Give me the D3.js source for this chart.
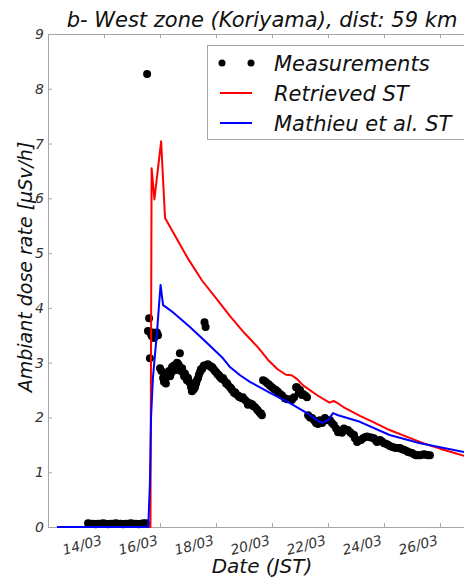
<!DOCTYPE html>
<html>
<head>
<meta charset="utf-8">
<script src="https://d3js.org/d3.v7.min.js"></script>
<style>
body { margin: 0; background: white; }
text { font-family: "DejaVu Sans", sans-serif; font-style: italic; }
</style>
</head>
<body>
<svg></svg>
<script>
// days of March 2011 (JST), values in uSv/h
var tickDays = [14, 16, 18, 20, 22, 24, 26];
var tickLabels = ["14/03", "16/03", "18/03", "20/03", "22/03", "24/03", "26/03"];
var yTicks = [0, 1, 2, 3, 4, 5, 6, 7, 8, 9];

var measDays = [13.43, 13.52, 13.61, 13.70, 13.79, 13.88, 13.97, 14.06, 14.15, 14.24, 14.33, 14.42,
    14.51, 14.60, 14.69, 14.78, 14.87, 14.96, 15.05, 15.14, 15.23, 15.32, 15.41, 15.50,
    15.54, 15.57, 15.61, 15.64, 15.68, 15.71, 15.75, 15.79, 15.82, 15.86, 15.89, 15.93,
    16.00, 16.05, 16.11, 16.14, 16.18, 16.21, 16.25, 16.29, 16.32, 16.36, 16.39, 16.43,
    16.46, 16.50, 16.54, 16.57, 16.61, 16.64, 16.68, 16.71, 16.75, 16.79, 16.82, 16.86,
    16.89, 16.93, 16.96, 17.00, 17.04, 17.07, 17.11, 17.14, 17.18, 17.21, 17.25, 17.29,
    17.32, 17.36, 17.39, 17.43, 17.46, 17.50, 17.54, 17.57, 17.59, 17.63, 17.68, 17.71,
    17.75, 17.79, 17.82, 17.86, 17.89, 17.93, 17.96, 18.00, 18.04, 18.07, 18.11, 18.14,
    18.18, 18.21, 18.25, 18.29, 18.36, 18.39, 18.43, 18.50, 18.54, 18.57, 18.64, 18.68,
    18.71, 18.79, 18.82, 18.86, 18.93, 18.96, 19.04, 19.11, 19.14, 19.21, 19.29, 19.32,
    19.39, 19.46, 19.50, 19.57, 19.61, 19.64,
    19.68, 19.75, 19.82, 19.89, 19.93, 20.00, 20.07, 20.14, 20.21, 20.29, 20.36, 20.46,
    20.54, 20.64, 20.71, 20.79, 20.86, 20.89, 20.96, 21.00, 21.07, 21.11, 21.18, 21.25,
    21.29, 21.36, 21.43, 21.50, 21.57, 21.64, 21.71, 21.79, 21.89, 21.96, 22.07, 22.14,
    22.21, 22.29, 22.36, 22.43, 22.50, 22.57, 22.64, 22.71, 22.79, 22.86, 22.93, 22.96,
    23.04, 23.11, 23.18, 23.25, 23.32, 23.39, 23.50, 23.57, 23.64, 23.71, 23.75, 23.82,
    23.86, 23.93, 24.00, 24.07, 24.14, 24.21, 24.29, 24.36, 24.43, 24.50, 24.57, 24.64,
    24.71, 24.79, 24.86, 24.93, 25.00, 25.07, 25.14, 25.21, 25.29, 25.36, 25.43, 25.50,
    25.57, 25.64];
var measDose = [0.07, 0.06, 0.06, 0.05, 0.06, 0.06, 0.07, 0.06, 0.05, 0.06, 0.06, 0.07,
    0.06, 0.06, 0.05, 0.06, 0.06, 0.07, 0.06, 0.06, 0.05, 0.06, 0.07, 0.07,
    8.27, 3.58, 3.81, 3.08, 3.52, 3.48, 3.55, 3.45, 3.50, 3.52, 3.55, 3.50,
    2.90, 2.85, 2.72, 2.65, 2.68, 2.62, 2.75, 2.80, 2.85, 2.75, 2.80, 2.92,
    2.90, 2.95, 2.86, 2.92, 3.00, 2.98, 2.95, 3.17, 2.85, 2.90, 2.82, 2.75,
    2.80, 2.75, 2.68, 2.72, 2.65, 2.63, 2.55, 2.48, 2.50, 2.52, 2.55, 2.62,
    2.68, 2.72, 2.78, 2.83, 2.88, 2.88, 2.92, 2.95, 3.74, 3.65, 2.96, 2.97,
    2.95, 2.94, 2.92, 2.92, 2.90, 2.87, 2.85, 2.83, 2.80, 2.78, 2.77, 2.74,
    2.72, 2.70, 2.72, 2.68, 2.62, 2.63, 2.59, 2.55, 2.53, 2.50, 2.45, 2.46,
    2.43, 2.40, 2.38, 2.37, 2.35, 2.37, 2.32, 2.28, 2.23, 2.26, 2.24, 2.21,
    2.19, 2.15, 2.12, 2.08, 2.07, 2.04,
    2.68, 2.66, 2.63, 2.60, 2.58, 2.55, 2.52, 2.50, 2.47, 2.43, 2.40, 2.35,
    2.33, 2.33, 2.32, 2.37, 2.55, 2.55, 2.46, 2.50, 2.41, 2.43, 2.40, 2.37,
    2.04, 2.00, 1.99, 1.95, 1.90, 1.88, 1.95, 1.90, 1.99, 1.95, 1.95, 1.90,
    1.86, 1.80, 1.73, 1.75, 1.72, 1.80, 1.77, 1.77, 1.73, 1.70, 1.68, 1.62,
    1.55, 1.58, 1.59, 1.62, 1.64, 1.65, 1.64, 1.63, 1.62, 1.58, 1.55, 1.58,
    1.59, 1.56, 1.53, 1.52, 1.50, 1.48, 1.46, 1.45, 1.44, 1.44, 1.44, 1.42,
    1.41, 1.39, 1.37, 1.36, 1.35, 1.33, 1.31, 1.31, 1.31, 1.32, 1.33, 1.32,
    1.31, 1.31];

var retrievedDays = [12.32, 15.66, 15.70, 15.80, 16.04, 16.18, 16.79, 17.0, 17.5, 18.0, 18.5, 19.0,
    19.5, 19.86, 20.2, 20.5, 20.7, 20.9, 21.1, 21.6, 22.05, 22.2, 22.35, 22.55, 23.14, 23.6,
    24.2, 24.8, 25.4, 26.0, 26.86, 27.25];
var retrievedDose = [0, 0, 6.55, 5.98, 7.04, 5.64, 5.09, 4.90, 4.50, 4.18, 3.85, 3.55,
    3.28, 3.05, 2.88, 2.78, 2.77, 2.70, 2.59, 2.41, 2.27, 2.30, 2.26, 2.19, 2.03, 1.92,
    1.77, 1.65, 1.53, 1.43, 1.30, 1.25];

var mathieuDays = [12.32, 15.58, 15.64, 15.68, 15.75, 15.89, 16.02, 16.11, 16.25, 16.46, 17.07, 17.68,
    18.25, 18.5, 18.86, 19.21, 19.93, 20.64, 21.25, 21.6, 21.79, 22.0, 22.18, 22.36, 23.14,
    24.2, 25.29, 26.86, 27.25];
var mathieuDose = [0, 0, 0.8, 2.0, 2.74, 3.54, 4.42, 4.05, 4.0, 3.92, 3.65, 3.36,
    3.08, 2.92, 2.77, 2.65, 2.45, 2.26, 2.08, 1.95, 1.90, 1.95, 2.08, 2.04, 1.92,
    1.68, 1.53, 1.37, 1.33];

var legendNames = ["Measurements", "Retrieved ST", "Mathieu et al. ST"];
var lineColors = ["#ff0000", "#0000ff"];

var screen = {width: 464, height: 579};
var plot = {left: 48, right: 475, top: 34, bottom: 527};

var svg = d3.select("svg")
    .attr("width", screen.width)
    .attr("height", screen.height);

var xScale = d3.scaleLinear().domain([12, 27.25]).range([plot.left, plot.right]);
var yScale = d3.scaleLinear().domain([0, 9]).range([plot.bottom, plot.top]);

// frame
svg.append("rect")
    .attr("x", plot.left + 0.5).attr("y", plot.top + 0.5)
    .attr("width", plot.right - plot.left).attr("height", plot.bottom - plot.top)
    .attr("fill", "none").attr("stroke", "#a6a6a6");

var styleAxis = function(g)
{
    g.select(".domain").remove();
    g.selectAll(".tick line").attr("stroke", "#a6a6a6");
    g.selectAll(".tick text").attr("fill", "#333").style("font-size", "14px").style("font-family", "DejaVu Sans");
}

var xAxis = svg.append("g")
    .attr("transform", "translate(0," + plot.bottom + ")")
    .call(d3.axisBottom(xScale).tickValues(tickDays)
        .tickFormat(function(d, i){ return tickLabels[i]; })
        .tickSize(-4).tickSizeOuter(0))
    .call(styleAxis);
xAxis.selectAll(".tick text")
    .attr("text-anchor", "end")
    .attr("x", -6).attr("y", 6).attr("dy", "0.75em")
    .attr("transform", "rotate(-15)");

svg.append("g")
    .attr("transform", "translate(0," + plot.top + ")")
    .call(d3.axisTop(xScale).tickValues(tickDays).tickFormat("").tickSize(-4).tickSizeOuter(0))
    .call(styleAxis);

svg.append("g")
    .attr("transform", "translate(" + plot.left + ",0)")
    .call(d3.axisLeft(yScale).tickValues(yTicks).tickSize(-4).tickSizeOuter(0).tickPadding(4))
    .call(styleAxis);

// measurements
svg.append("g")
    .selectAll("circle")
    .data(measDays)
    .enter()
    .append("circle")
    .attr("cx", function(d){ return xScale(d); })
    .attr("cy", function(d, i){ return yScale(measDose[i]); })
    .attr("r", 4)
    .attr("fill", "black");

var line = d3.line()
    .x(function(d){ return xScale(d[0]); })
    .y(function(d){ return yScale(d[1]); });

var series = [d3.zip(retrievedDays, retrievedDose), d3.zip(mathieuDays, mathieuDose)];
svg.append("g")
    .selectAll("path")
    .data(series)
    .enter()
    .append("path")
    .attr("d", line)
    .attr("fill", "none")
    .attr("stroke", function(d, i){ return lineColors[i]; })
    .attr("stroke-width", 2)
    .attr("stroke-linejoin", "round");

// texts
svg.append("text")
    .attr("x", 262).attr("y", 27)
    .attr("text-anchor", "middle")
    .style("font-size", "21px").attr("fill", "#111")
    .text("b- West zone (Koriyama), dist: 59 km");

svg.append("text")
    .attr("x", 262).attr("y", 573)
    .attr("text-anchor", "middle")
    .style("font-size", "20px").attr("fill", "#111")
    .text("Date (JST)");

svg.append("text")
    .attr("transform", "translate(32,267) rotate(-90)")
    .attr("text-anchor", "middle")
    .style("font-size", "19px").attr("fill", "#111")
    .text("Ambiant dose rate [\u00b5Sv/h]");

// legend
var legend = svg.append("g");
legend.append("rect")
    .attr("x", 207.5).attr("y", 45.5)
    .attr("width", 270).attr("height", 94)
    .attr("fill", "white").attr("stroke", "#a6a6a6");

var rows = legend.selectAll("g")
    .data(legendNames)
    .enter()
    .append("g")
    .attr("transform", function(d, i){ return "translate(0," + (63 + i * 30) + ")"; });

rows.append("text")
    .attr("x", 274).attr("dy", "0.36em")
    .style("font-size", "21px").attr("fill", "#111")
    .text(function(d){ return d; });

rows.filter(function(d, i){ return i == 0; })
    .selectAll("circle")
    .data([222, 251])
    .enter()
    .append("circle")
    .attr("cx", function(d){ return d; })
    .attr("r", 3.5)
    .attr("fill", "black");

rows.filter(function(d, i){ return i > 0; })
    .append("line")
    .attr("x1", 220).attr("x2", 252)
    .attr("stroke", function(d, i){ return lineColors[i]; })
    .attr("stroke-width", 2);
</script>
</body>
</html>
